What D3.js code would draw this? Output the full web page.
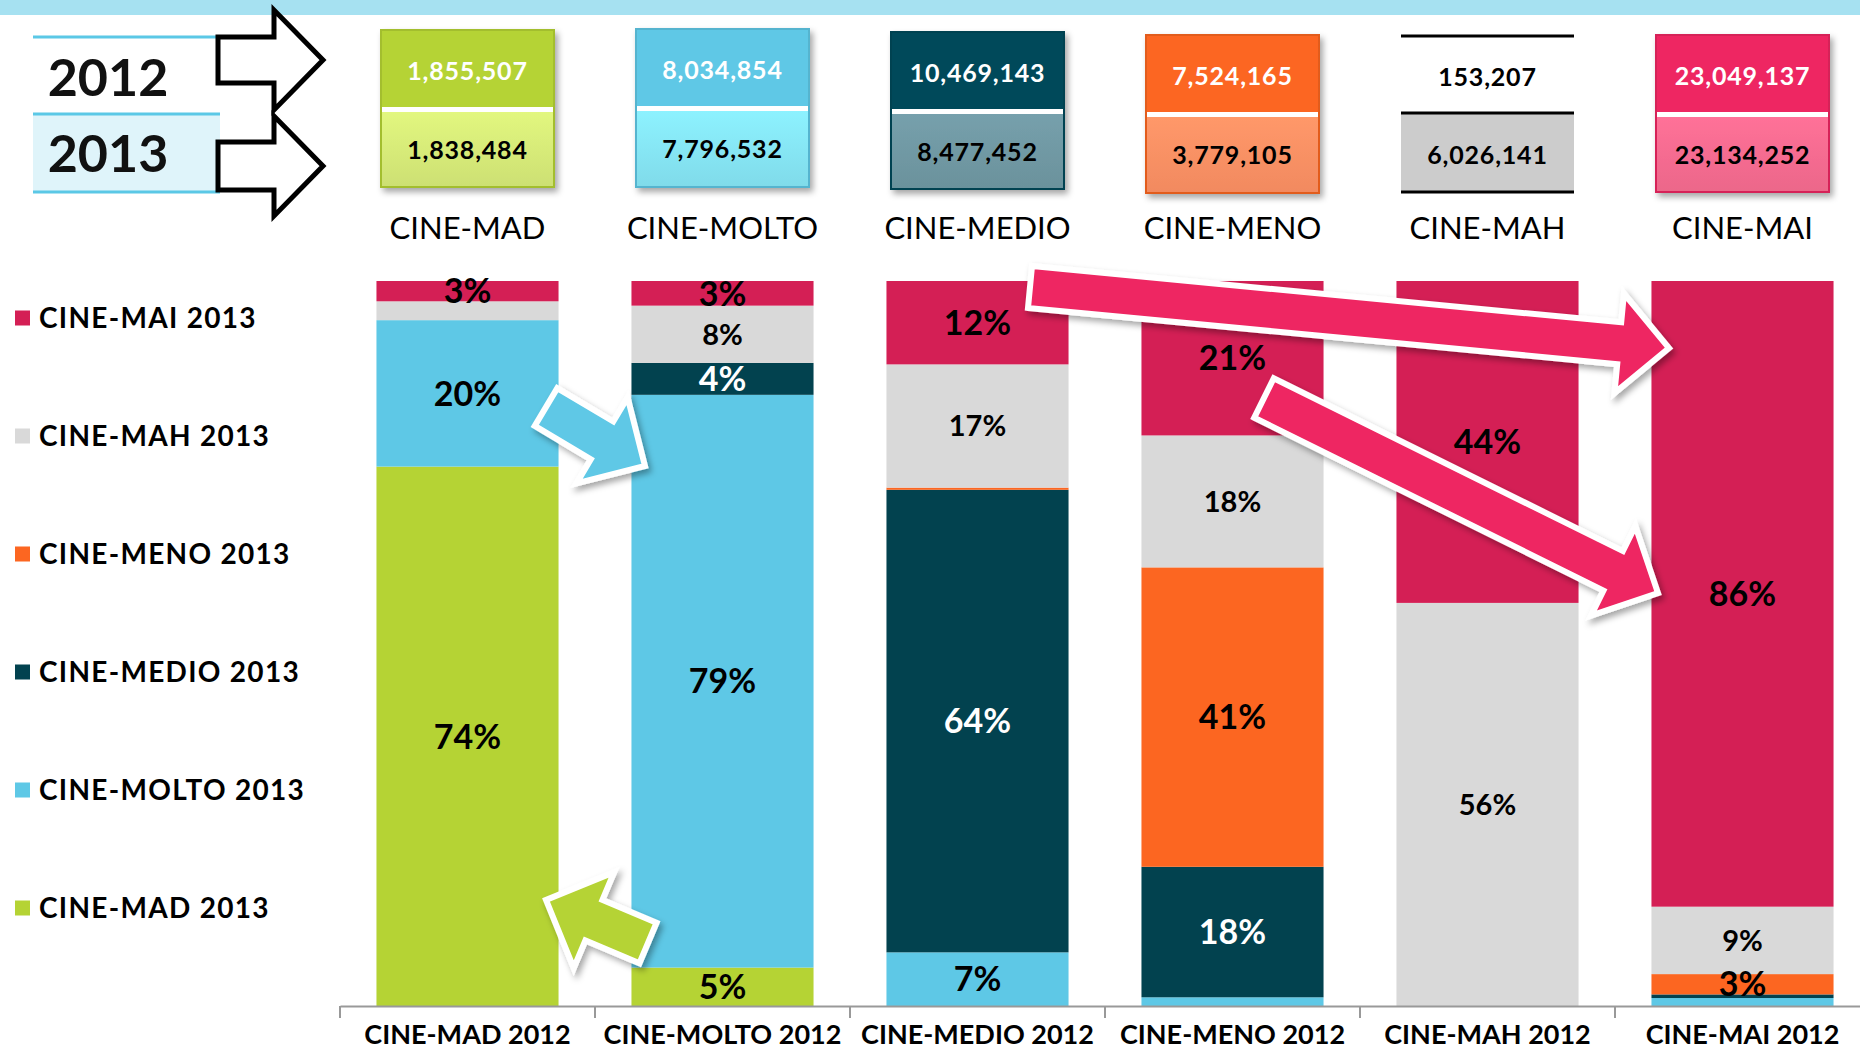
<!DOCTYPE html>
<html>
<head>
<meta charset="utf-8">
<script src="https://cdn.jsdelivr.net/npm/d3@7"></script>
<style>
  body { margin: 0; background: #fff; }
  text { font-family: Lato, "Open Sans", sans-serif; }
</style>
</head>
<body>
<div id="chart"></div>
<script>
var svgWidth = 1860;
var svgHeight = 1054;

// data
var categories = ["CINE-MAD", "CINE-MOLTO", "CINE-MEDIO", "CINE-MENO", "CINE-MAH", "CINE-MAI"];
var barNames = ["CINE-MAD 2012", "CINE-MOLTO 2012", "CINE-MEDIO 2012", "CINE-MENO 2012", "CINE-MAH 2012", "CINE-MAI 2012"];
var seriesKeys = ["CINE-MAD 2013", "CINE-MOLTO 2013", "CINE-MEDIO 2013", "CINE-MENO 2013", "CINE-MAH 2013", "CINE-MAI 2013"];
var total2012 = [1855507, 8034854, 10469143, 7524165, 153207, 23049137];
var total2013 = [1838484, 7796532, 8477452, 3779105, 6026141, 23134252];

// share (%) of each 2012 group ending up in each 2013 group
var shareMAD   = [74.4, 5.3, 0, 0, 0, 0];
var shareMOLTO = [20.2, 79.0, 7.4, 1.2, 0, 1.1];
var shareMEDIO = [0, 4.4, 63.8, 18.0, 0, 0.5];
var shareMENO  = [0, 0, 0.3, 41.3, 0, 2.8];
var shareMAH   = [2.6, 7.9, 17.0, 18.2, 55.6, 9.3];
var shareMAI   = [2.8, 3.4, 11.5, 21.3, 44.4, 86.3];

var seriesColors = ["#b5d334", "#5ec8e6", "#02424f", "#fc6621", "#d9d9d9", "#d41f55"];
var boxTop = ["#b5d334", "#5ec8e6", "#034a5a", "#fc6621", "#ffffff", "#ee2562"];
var boxBottom = ["#d6ea78", "#86e5f4", "#7098a3", "#fd9064", "#cccccc", "#f66b90"];
var boxY0 = [30, 29, 32, 35, 36, 35];
var boxY1 = [187, 187, 189, 193, 192, 192];

var rows = barNames.map(function(name, i) {
  return {
    name: name,
    "CINE-MAD 2013": shareMAD[i],
    "CINE-MOLTO 2013": shareMOLTO[i],
    "CINE-MEDIO 2013": shareMEDIO[i],
    "CINE-MENO 2013": shareMENO[i],
    "CINE-MAH 2013": shareMAH[i],
    "CINE-MAI 2013": shareMAI[i]
  };
});

var svg = d3.select("#chart")
  .append("svg")
  .attr("width", svgWidth)
  .attr("height", svgHeight);

var defs = svg.append("defs");
var shadow = defs.append("filter").attr("id", "shadow")
  .attr("x", "-20%").attr("y", "-20%").attr("width", "150%").attr("height", "150%");
shadow.append("feDropShadow").attr("dx", 3).attr("dy", 4).attr("stdDeviation", 3)
  .attr("flood-color", "#000").attr("flood-opacity", 0.35);

// top band
svg.append("rect").attr("x", 0).attr("y", 0).attr("width", svgWidth).attr("height", 15).attr("fill", "#a6e1f1");

var x = d3.scaleBand()
  .domain(barNames)
  .range([340, 1870])
  .paddingInner(0.286)
  .paddingOuter(0.143);

var y = d3.scaleLinear()
  .domain([0, 100])
  .range([1006, 281]);

var stacked = d3.stack().keys(seriesKeys)(rows);

// bars
var layers = svg.append("g").selectAll("g")
  .data(stacked)
  .enter()
  .append("g")
  .attr("fill", (d, i) => seriesColors[i]);

layers.selectAll("rect")
  .data(d => d)
  .enter()
  .append("rect")
  .attr("x", d => x(d.data.name))
  .attr("y", d => y(d[1]))
  .attr("width", x.bandwidth())
  .attr("height", d => y(d[0]) - y(d[1]));

// percent labels
stacked.forEach(function(layer, li) {
  var key = seriesKeys[li];
  svg.append("g").selectAll("text")
    .data(layer.filter(d => d[1] - d[0] >= 2.7))
    .enter()
    .append("text")
    .attr("x", d => x(d.data.name) + x.bandwidth() / 2)
    .attr("y", d => (y(d[0]) + y(d[1])) / 2)
    .attr("dy", "0.36em")
    .attr("text-anchor", "middle")
    .attr("font-weight", "bold")
    .attr("font-size", key == "CINE-MAH 2013" ? 29 : 34)
    .attr("fill", key == "CINE-MEDIO 2013" ? "#fff" : "#000")
    .text(d => Math.round(d[1] - d[0]) + "%");
});

// axis
var axisG = svg.append("g")
  .attr("transform", "translate(0,1006)")
  .call(d3.axisBottom(x).tickSize(0).tickSizeOuter(0).tickPadding(19));
axisG.select(".domain").attr("stroke", "#999").attr("stroke-width", 2);
axisG.selectAll("text")
  .attr("font-family", "Lato, sans-serif")
  .attr("font-size", 27)
  .attr("font-weight", "bold")
  .attr("fill", "#000");
axisG.selectAll(".sep")
  .data(barNames)
  .enter()
  .append("line")
  .attr("x1", d => x(d) - (x.step() - x.bandwidth()) / 2)
  .attr("x2", d => x(d) - (x.step() - x.bandwidth()) / 2)
  .attr("y1", 0)
  .attr("y2", 12)
  .attr("stroke", "#999")
  .attr("stroke-width", 2);

// legend
var legendKeys = seriesKeys.slice().reverse();
var legendColors = seriesColors.slice().reverse();
var legend = svg.append("g").selectAll("g")
  .data(legendKeys)
  .enter()
  .append("g")
  .attr("transform", (d, i) => `translate(15, ${318 + i * 118})`);
legend.append("rect")
  .attr("x", 0).attr("y", -7.5).attr("width", 15).attr("height", 15)
  .attr("fill", (d, i) => legendColors[i]);
legend.append("text")
  .attr("x", 24)
  .attr("dy", "0.36em")
  .attr("font-size", 28)
  .attr("font-weight", "bold")
  .attr("letter-spacing", 1.3)
  .text(d => d);

// block arrow helper
function blockArrow(x0, y0, x1, y1, shaft, head, headLen) {
  var L = Math.hypot(x1 - x0, y1 - y0);
  var ux = (x1 - x0) / L, uy = (y1 - y0) / L;
  var px = -uy, py = ux;
  var bx = x1 - ux * headLen, by = y1 - uy * headLen;
  return [
    [x0 + px * shaft / 2, y0 + py * shaft / 2],
    [bx + px * shaft / 2, by + py * shaft / 2],
    [bx + px * head / 2, by + py * head / 2],
    [x1, y1],
    [bx - px * head / 2, by - py * head / 2],
    [bx - px * shaft / 2, by - py * shaft / 2],
    [x0 - px * shaft / 2, y0 - py * shaft / 2]
  ].map(p => p.join(",")).join(" ");
}

// year labels top left
svg.append("line").attr("x1", 33).attr("x2", 218).attr("y1", 37).attr("y2", 37)
  .attr("stroke", "#5bc8e6").attr("stroke-width", 3);
svg.append("rect").attr("x", 33).attr("y", 114).attr("width", 187).attr("height", 78).attr("fill", "#dff4fa");
[114, 192].forEach(function(ly) {
  svg.append("line").attr("x1", 33).attr("x2", 220).attr("y1", ly).attr("y2", ly)
    .attr("stroke", "#5bc8e6").attr("stroke-width", 3);
});
svg.append("text").attr("x", 108).attr("y", 77).attr("dy", "0.36em").attr("text-anchor", "middle")
  .attr("font-size", 52).attr("font-weight", "bold").attr("fill", "#111").text("2012");
svg.append("text").attr("x", 108).attr("y", 153).attr("dy", "0.36em").attr("text-anchor", "middle")
  .attr("font-size", 52).attr("font-weight", "bold").attr("fill", "#111").text("2013");

svg.append("polygon").attr("points", blockArrow(218, 60, 323, 60, 46, 100, 49))
  .attr("fill", "#fff").attr("stroke", "#000").attr("stroke-width", 5);
svg.append("polygon").attr("points", blockArrow(218, 166, 323, 166, 48, 100, 49))
  .attr("fill", "#fff").attr("stroke", "#000").attr("stroke-width", 5);

// total boxes
var fmt = d3.format(",");
categories.forEach(function(cat, i) {
  var cx = x(barNames[i]) + x.bandwidth() / 2;
  var w = 173, x0 = cx - w / 2;
  var t = boxY0[i], b = boxY1[i], s = t + 77;
  var g = svg.append("g");

  if (cat == "CINE-MAH") {
    g.append("rect").attr("x", x0).attr("y", s).attr("width", w).attr("height", b - s).attr("fill", boxBottom[i]);
    [t, s, b].forEach(function(ly) {
      g.append("line").attr("x1", x0).attr("x2", x0 + w).attr("y1", ly).attr("y2", ly)
        .attr("stroke", "#000").attr("stroke-width", 3);
    });
  } else {
    var gid = "grad" + i;
    var grad = defs.append("linearGradient").attr("id", gid).attr("x1", 0).attr("x2", 0).attr("y1", 0).attr("y2", 1);
    grad.append("stop").attr("offset", "0%").attr("stop-color", d3.color(boxBottom[i]).brighter(0.15));
    grad.append("stop").attr("offset", "100%").attr("stop-color", d3.color(boxBottom[i]).darker(0.12));
    var box = g.append("g").attr("filter", "url(#shadow)");
    box.append("rect").attr("x", x0).attr("y", t).attr("width", w).attr("height", b - t)
      .attr("fill", "#fff").attr("stroke", d3.color(boxTop[i]).darker(0.3)).attr("stroke-width", 2);
    box.append("rect").attr("x", x0 + 1).attr("y", t + 1).attr("width", w - 2).attr("height", s - t - 1)
      .attr("fill", boxTop[i]);
    box.append("rect").attr("x", x0 + 1).attr("y", s + 5).attr("width", w - 2).attr("height", b - s - 6)
      .attr("fill", "url(#" + gid + ")");
  }

  g.append("text").attr("x", cx).attr("y", (t + s) / 2 + 2).attr("dy", "0.36em").attr("text-anchor", "middle")
    .attr("font-size", 25).attr("font-weight", "bold").attr("letter-spacing", 0.8)
    .attr("fill", cat == "CINE-MAH" ? "#000" : "#fff")
    .text(fmt(total2012[i]));
  g.append("text").attr("x", cx).attr("y", (s + 5 + b) / 2).attr("dy", "0.36em").attr("text-anchor", "middle")
    .attr("font-size", 25).attr("font-weight", "bold").attr("letter-spacing", 0.8)
    .attr("fill", "#000")
    .text(fmt(total2013[i]));
  g.append("text").attr("x", cx).attr("y", 228).attr("dy", "0.36em").attr("text-anchor", "middle")
    .attr("font-family", "'Liberation Sans', Arial, sans-serif")
    .attr("font-size", 31).attr("fill", "#000")
    .text(cat);
});

// flow arrows
var flows = [
  { pts: [546, 407, 645, 466], fill: "#5ec8e6", shaft: 44, head: 100, len: 50 },
  { pts: [648, 943, 546, 900], fill: "#b5d334", shaft: 44, head: 104, len: 52 },
  { pts: [1030, 287, 1669, 348], fill: "#ee2562", shaft: 42, head: 100, len: 50 },
  { pts: [1264, 398, 1658, 593], fill: "#ee2562", shaft: 44, head: 100, len: 50 }
];
svg.append("g").selectAll("polygon")
  .data(flows)
  .enter()
  .append("polygon")
  .attr("points", d => blockArrow(d.pts[0], d.pts[1], d.pts[2], d.pts[3], d.shaft, d.head, d.len))
  .attr("fill", d => d.fill)
  .attr("stroke", "#fff")
  .attr("stroke-width", 6)
  .attr("stroke-linejoin", "miter")
  .attr("filter", "url(#shadow)");
</script>
</body>
</html>
